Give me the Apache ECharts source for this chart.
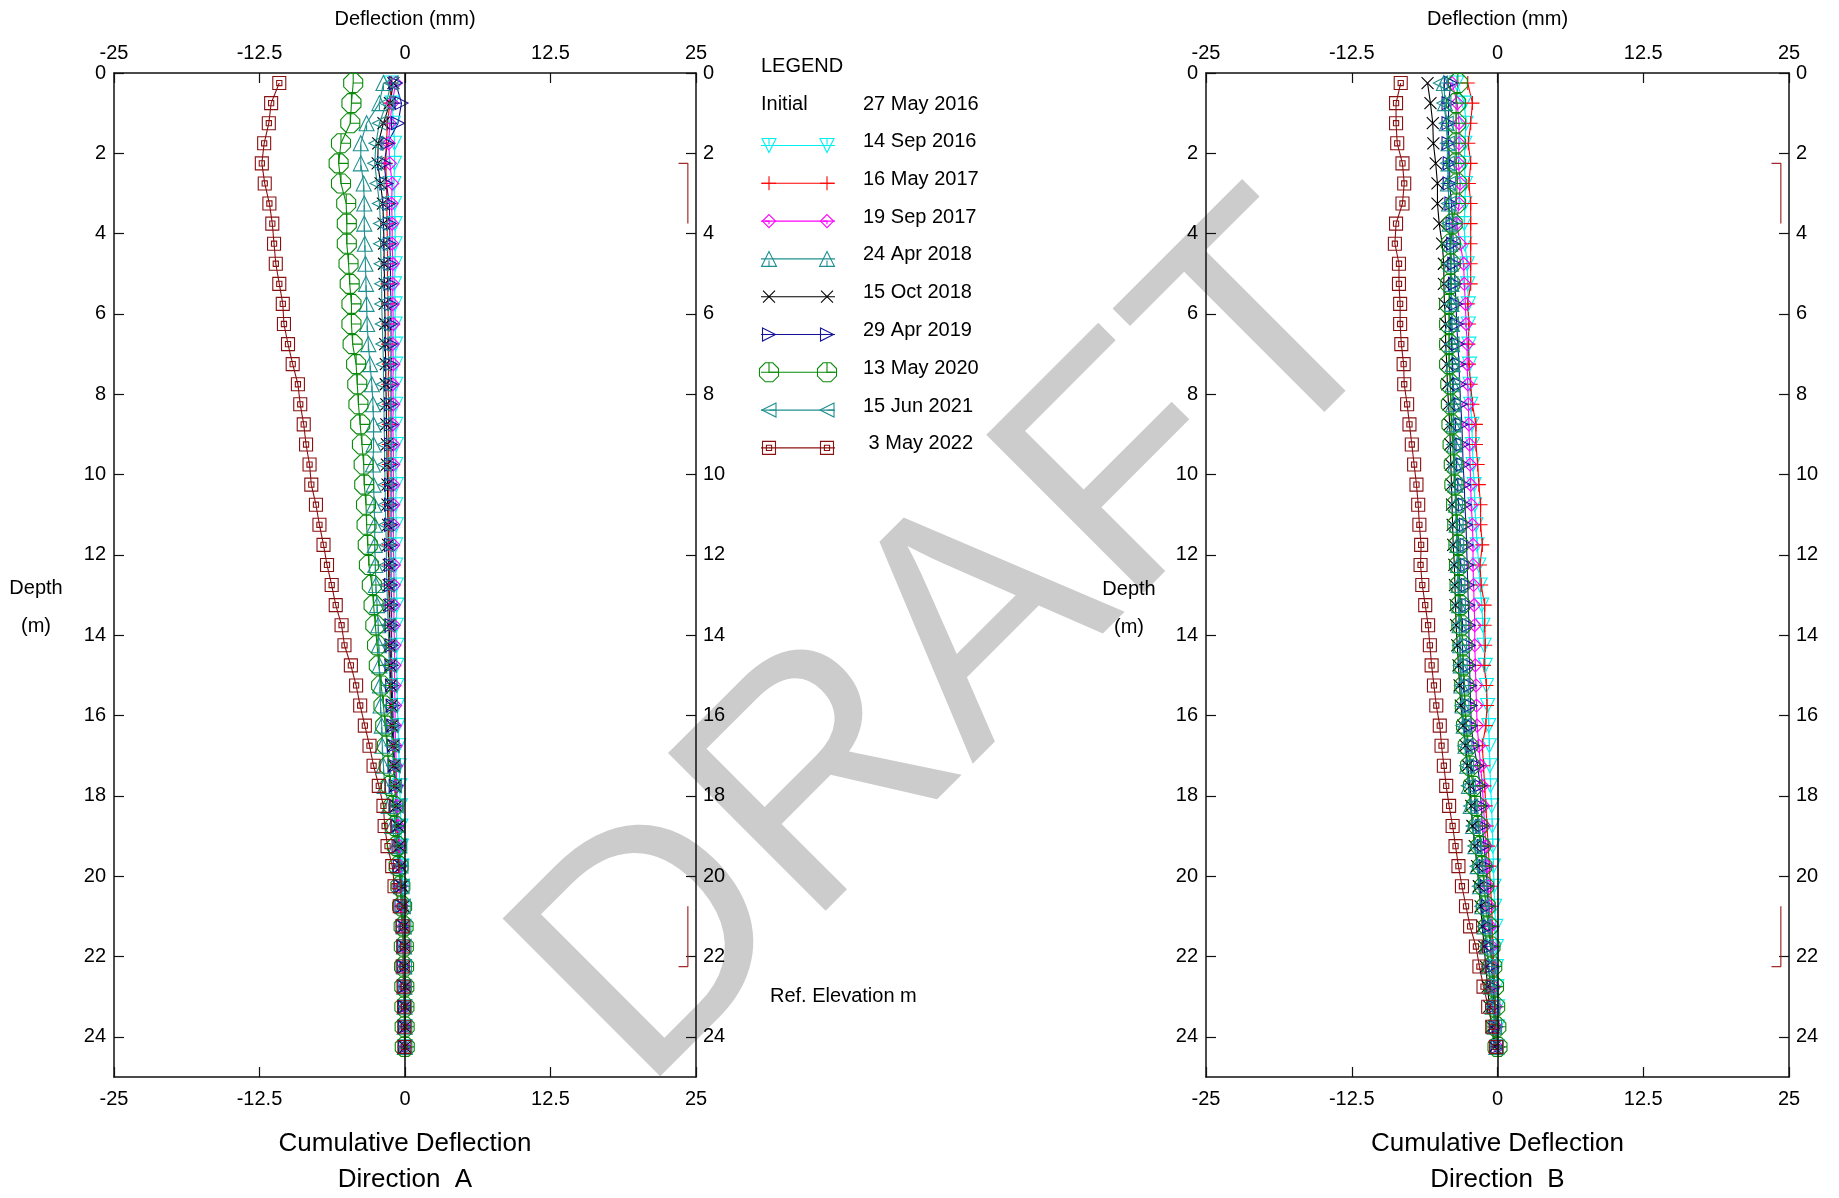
<!DOCTYPE html>
<html><head><meta charset="utf-8">
<script src="https://cdn.jsdelivr.net/npm/echarts@6/dist/echarts.min.js"></script>
<style>html,body{margin:0;padding:0;background:#fff}#c{width:1839px;height:1198px}</style>
</head><body><div id="c"></div>
<script>
// ---------- DATA ----------
const depths = [0.25,0.75,1.25,1.75,2.25,2.75,3.25,3.75,4.25,4.75,5.25,5.75,6.25,6.75,7.25,7.75,8.25,8.75,9.25,9.75,10.25,10.75,11.25,11.75,12.25,12.75,13.25,13.75,14.25,14.75,15.25,15.75,16.25,16.75,17.25,17.75,18.25,18.75,19.25,19.75,20.25,20.75,21.25,21.75,22.25,22.75,23.25,23.75,24.25];
const xTickValues = [-25, -12.5, 0, 12.5, 25];
const initialLabel = 'Initial';
const initialDate = '27 May 2016';
const dateLabels = ['14 Sep 2016','16 May 2017','19 Sep 2017','24 Apr 2018','15 Oct 2018','29 Apr 2019','13 May 2020','15 Jun 2021',' 3 May 2022'];

// Direction A
const a_14Sep2016 = [-1.2,-1.1,-1.0,-0.9,-0.9,-0.95,-0.9,-0.85,-0.85,-0.85,-0.9,-0.85,-0.85,-0.8,-0.8,-0.8,-0.8,-0.8,-0.75,-0.8,-0.75,-0.8,-0.75,-0.8,-0.8,-0.75,-0.7,-0.75,-0.7,-0.7,-0.7,-0.65,-0.6,-0.55,-0.5,-0.45,-0.4,-0.35,-0.3,-0.25,-0.2,-0.15,-0.1,-0.1,-0.05,-0.05,0,0,0];
const a_16May2017 = [-1.2,-1.3,-1.5,-1.6,-1.65,-1.6,-1.55,-1.55,-1.5,-1.5,-1.5,-1.45,-1.45,-1.45,-1.4,-1.45,-1.4,-1.4,-1.4,-1.4,-1.4,-1.4,-1.35,-1.4,-1.35,-1.35,-1.3,-1.3,-1.3,-1.25,-1.2,-1.15,-1.1,-1.0,-0.95,-0.85,-0.8,-0.7,-0.55,-0.45,-0.4,-0.3,-0.2,-0.1,-0.1,-0.05,-0.05,0,0];
const a_19Sep2017 = [-0.8,-1.1,-1.3,-1.4,-1.3,-1.1,-1.15,-1.1,-1.1,-1.05,-1.05,-1.05,-1.0,-1.05,-1.0,-1.05,-1.0,-1.05,-1.0,-1.0,-1.0,-1.0,-1.0,-1.0,-0.95,-0.95,-0.95,-0.95,-0.9,-0.9,-0.9,-0.85,-0.85,-0.8,-0.75,-0.7,-0.65,-0.55,-0.45,-0.4,-0.35,-0.25,-0.15,-0.1,-0.1,-0.05,0,0,0];
const a_24Apr2018 = [-1.85,-2.2,-3.3,-3.8,-3.8,-3.55,-3.5,-3.5,-3.45,-3.4,-3.35,-3.3,-3.25,-3.15,-3.0,-2.85,-2.75,-2.7,-2.7,-2.75,-2.7,-2.65,-2.6,-2.6,-2.55,-2.5,-2.4,-2.3,-2.25,-2.2,-2.15,-2.1,-2.0,-1.95,-1.85,-1.75,-1.4,-1.1,-0.8,-0.55,-0.35,-0.2,-0.1,-0.08,-0.06,-0.05,-0.04,-0.03,-0.02];
const a_15Oct2018 = [-1.0,-1.3,-1.85,-2.3,-2.35,-2.1,-1.9,-1.85,-1.8,-1.8,-1.75,-1.75,-1.7,-1.7,-1.65,-1.65,-1.6,-1.6,-1.55,-1.55,-1.5,-1.5,-1.45,-1.45,-1.4,-1.4,-1.35,-1.35,-1.3,-1.25,-1.2,-1.15,-1.1,-1.0,-0.95,-0.85,-0.75,-0.6,-0.5,-0.35,-0.25,-0.15,-0.1,-0.05,-0.05,0,0,0,0];
const a_29Apr2019 = [-0.8,-0.3,-0.6,-1.5,-1.8,-1.6,-1.35,-1.3,-1.3,-1.25,-1.25,-1.2,-1.2,-1.2,-1.2,-1.2,-1.2,-1.2,-1.2,-1.2,-1.2,-1.2,-1.2,-1.2,-1.2,-1.2,-1.15,-1.15,-1.15,-1.15,-1.1,-1.05,-1.0,-0.95,-0.9,-0.8,-0.75,-0.65,-0.55,-0.45,-0.4,-0.3,-0.2,-0.1,-0.1,-0.05,0,0,0];
const a_13May2020 = [-4.45,-4.6,-4.7,-5.5,-5.7,-5.5,-5.05,-5.0,-5.0,-4.85,-4.75,-4.6,-4.6,-4.5,-4.2,-4.1,-4.0,-3.85,-3.7,-3.55,-3.5,-3.35,-3.3,-3.2,-3.1,-2.85,-2.7,-2.55,-2.4,-2.25,-2.05,-1.85,-1.7,-1.55,-1.4,-1.25,-1.0,-0.85,-0.7,-0.55,-0.4,-0.25,-0.12,-0.1,-0.08,-0.06,-0.05,-0.03,-0.02];
const a_15Jun2021 = [-1.2,-1.6,-2.2,-2.5,-2.6,-2.4,-2.2,-2.1,-2.1,-2.05,-2.0,-2.0,-1.95,-1.9,-1.85,-1.85,-1.8,-1.8,-1.75,-1.75,-1.7,-1.7,-1.65,-1.6,-1.6,-1.55,-1.5,-1.45,-1.4,-1.35,-1.3,-1.25,-1.2,-1.1,-1.0,-0.9,-0.75,-0.6,-0.45,-0.35,-0.25,-0.15,-0.1,-0.08,-0.05,-0.04,-0.03,-0.02,-0.01];
const a_3May2022 = [-10.8,-11.5,-11.7,-12.1,-12.3,-12.05,-11.65,-11.4,-11.25,-11.1,-10.8,-10.5,-10.4,-10.05,-9.65,-9.2,-9.0,-8.7,-8.5,-8.2,-8.05,-7.65,-7.35,-7.0,-6.7,-6.3,-5.95,-5.45,-5.2,-4.65,-4.2,-3.85,-3.45,-3.05,-2.7,-2.25,-1.85,-1.75,-1.5,-1.1,-0.9,-0.45,-0.2,-0.15,-0.2,-0.12,-0.08,-0.06,-0.05];

// Direction B
const b_14Sep2016 = [-3.5,-2.85,-2.7,-2.8,-2.85,-2.75,-2.8,-2.85,-2.8,-2.6,-2.55,-2.5,-2.5,-2.45,-2.4,-2.35,-2.3,-2.2,-2.15,-2.1,-2.0,-1.95,-1.85,-1.75,-1.6,-1.5,-1.35,-1.25,-1.15,-1.05,-0.95,-0.85,-0.75,-0.7,-0.65,-0.6,-0.5,-0.45,-0.4,-0.35,-0.3,-0.25,-0.15,-0.1,-0.1,-0.05,0,0,0];
const b_16May2017 = [-2.55,-2.15,-2.3,-2.5,-2.3,-2.45,-2.3,-2.3,-2.3,-2.3,-2.3,-2.55,-2.45,-2.5,-2.45,-2.3,-2.15,-1.85,-1.85,-1.7,-1.6,-1.45,-1.45,-1.3,-1.5,-1.4,-1.1,-1.1,-1.05,-1.15,-0.95,-0.9,-1.0,-1.3,-1.2,-1.1,-1.0,-0.9,-0.8,-0.7,-0.6,-0.5,-0.45,-0.4,-0.3,-0.25,-0.2,-0.1,0];
const b_19Sep2017 = [-3.9,-3.45,-3.3,-3.3,-3.35,-3.2,-3.3,-3.5,-3.2,-2.9,-2.85,-2.75,-2.7,-2.6,-2.6,-2.55,-2.5,-2.45,-2.4,-2.35,-2.3,-2.25,-2.15,-2.1,-2.1,-2.05,-2.0,-1.95,-1.95,-1.9,-1.85,-1.8,-1.75,-1.6,-1.45,-1.3,-1.2,-1.1,-1.0,-0.9,-0.8,-0.7,-0.6,-0.5,-0.4,-0.3,-0.15,-0.1,0];
const b_24Apr2018 = [-4.6,-4.5,-4.35,-4.2,-4.2,-4.25,-4.15,-4.1,-4.05,-4.0,-3.95,-3.95,-3.9,-3.9,-3.85,-3.85,-3.8,-3.75,-3.7,-3.65,-3.6,-3.55,-3.5,-3.45,-3.4,-3.35,-3.3,-3.25,-3.2,-3.15,-3.1,-3.0,-2.9,-2.75,-2.6,-2.45,-2.3,-2.1,-1.9,-1.7,-1.5,-1.3,-1.1,-0.9,-0.75,-0.55,-0.4,-0.25,-0.1];
const b_15Oct2018 = [-6.0,-5.75,-5.55,-5.5,-5.3,-5.15,-5.15,-5.0,-4.75,-4.6,-4.6,-4.55,-4.45,-4.45,-4.35,-4.3,-4.2,-4.1,-4.05,-4.0,-3.95,-3.9,-3.85,-3.8,-3.7,-3.65,-3.6,-3.55,-3.45,-3.35,-3.25,-3.15,-2.95,-2.75,-2.55,-2.35,-2.25,-2.15,-1.95,-1.75,-1.6,-1.45,-1.3,-1.15,-1.0,-0.85,-0.7,-0.5,-0.25];
const b_29Apr2019 = [-4.0,-4.2,-4.2,-4.2,-4.1,-4.1,-3.95,-3.85,-3.8,-3.7,-3.65,-3.55,-3.5,-3.4,-3.3,-3.25,-3.15,-3.05,-3.0,-2.95,-2.85,-2.8,-2.7,-2.65,-2.6,-2.55,-2.5,-2.45,-2.45,-2.4,-2.35,-2.3,-2.25,-2.05,-1.7,-1.5,-1.4,-1.3,-1.15,-1.0,-0.9,-0.8,-0.7,-0.6,-0.5,-0.4,-0.3,-0.15,0];
const b_13May2020 = [-3.4,-3.55,-3.55,-3.55,-3.55,-3.45,-3.55,-3.85,-4.0,-4.0,-4.05,-4.15,-4.15,-4.15,-4.15,-4.05,-4.0,-3.95,-3.85,-3.75,-3.7,-3.55,-3.45,-3.35,-3.3,-3.25,-3.2,-3.1,-3.0,-2.95,-2.85,-2.8,-2.7,-2.55,-2.35,-2.1,-1.85,-1.65,-1.45,-1.3,-1.15,-1.0,-0.8,-0.6,-0.45,-0.3,-0.2,-0.1,0];
const b_15Jun2021 = [-4.9,-4.6,-4.4,-4.3,-4.3,-4.2,-4.2,-4.15,-4.1,-4.05,-4.0,-4.0,-3.95,-3.9,-3.9,-3.85,-3.8,-3.8,-3.75,-3.7,-3.65,-3.6,-3.55,-3.5,-3.45,-3.4,-3.35,-3.3,-3.25,-3.2,-3.1,-3.05,-2.95,-2.8,-2.65,-2.5,-2.3,-2.1,-1.95,-1.75,-1.55,-1.35,-1.15,-0.95,-0.75,-0.6,-0.4,-0.25,-0.1];
const b_3May2022 = [-8.3,-8.7,-8.7,-8.6,-8.15,-8.0,-8.15,-8.7,-8.8,-8.45,-8.45,-8.35,-8.35,-8.25,-8.05,-8.0,-7.75,-7.55,-7.35,-7.15,-6.95,-6.8,-6.7,-6.55,-6.6,-6.45,-6.2,-5.95,-5.8,-5.65,-5.45,-5.25,-4.95,-4.8,-4.6,-4.4,-4.15,-3.85,-3.6,-3.35,-3.05,-2.7,-2.35,-1.85,-1.55,-1.2,-0.8,-0.45,-0.12];

// reference marks (deflection mm, depth m)
const refMarkTop = [[23.5,2.25],[24.3,2.25],[24.3,3.75]];
const refMarkBottom = [[24.3,20.75],[24.3,22.25],[23.5,22.25]];

// ---------- STYLE ----------
const seriesA = [a_14Sep2016,a_16May2017,a_19Sep2017,a_24Apr2018,a_15Oct2018,a_29Apr2019,a_13May2020,a_15Jun2021,a_3May2022];
const seriesB = [b_14Sep2016,b_16May2017,b_19Sep2017,b_24Apr2018,b_15Oct2018,b_29Apr2019,b_13May2020,b_15Jun2021,b_3May2022];
const colors = ['#00f0f0','#ff0000','#ff00ff','#1f8f8f','#000000','#14149a','#0a8a0a','#1f8f8f','#8b1010'];
const symbolPaths = [
  'M0,0L20,0L10,20ZM10,0L10,9',
  'M0,10L20,10M10,0L10,20',
  'M10,0L20,10L10,20L0,10ZM4,10L10,10L10,15',
  'M10,0L20,20L0,20ZM10,20L10,12',
  'M0,0L20,20M20,0L0,20',
  'M0,0L20,10L0,20ZM0,10L9,10',
  'M6,0L14,0L20,6L20,14L14,20L6,20L0,14L0,6ZM10,0L10,10L20,10',
  'M20,0L0,10L20,20ZM20,10L11,10',
  'M0,0L20,0L20,20L0,20ZM6,6L14,6L14,14L6,14Z'
];
const symbolSizes = [14,14,13,15,12,13,19,14,13];
const FONT = "'Liberation Sans', Arial, Helvetica, sans-serif";

const chart = echarts.init(document.getElementById('c'), null, {renderer:'canvas'});

const gridsPx = [{left:114, top:73, width:582, height:1004},{left:1206, top:73, width:583, height:1004}];

function xAx(g, pos){
  return {type:'value', gridIndex:g, position:pos, min:-25, max:25, interval:12.5,
    axisLine:{show:true, onZero:false, lineStyle:{color:'#111', width:1.5}},
    axisTick:{show:true, inside:true, length:10, lineStyle:{color:'#111', width:1.2}},
    axisLabel:{show:true, fontSize:20, color:'#000', fontFamily:FONT, margin:pos==='top'?10:12, formatter:v=>String(v)},
    splitLine:{show:false}};
}
function yAx(g, pos){
  return {type:'value', gridIndex:g, position:pos, inverse:true, min:0, max:25, interval:2,
    axisLine:{show:true, onZero:false, lineStyle:{color:'#111', width:1.5}},
    axisTick:{show:true, inside:true, length:10, lineStyle:{color:'#111', width:1.2}},
    axisLabel:{show:true, fontSize:20, color:'#000', fontFamily:FONT, margin:pos==='left'?8:7, showMaxLabel:false,
      formatter:v=> (v>24 ? '' : String(v))},
    splitLine:{show:false}};
}

const series = [];
[seriesA, seriesB].forEach((set, g) => {
  set.forEach((vals, k) => {
    const s = {
      type:'line', name:dateLabels[k], xAxisIndex:g*2, yAxisIndex:g*2,
      data: depths.map((d,i)=>[vals[i], d]),
      symbol:'path://'+symbolPaths[k], symbolSize:symbolSizes[k],
      itemStyle:{color:'rgba(0,0,0,0)', borderColor:colors[k], borderWidth:1.1},
      lineStyle:{color:colors[k], width:1.1},
      emphasis:{disabled:true}, silent:true, animation:false
    };
    if (k===0) {
      s.markLine = {silent:true, symbol:'none', animation:false, label:{show:false},
        lineStyle:{color:'#111', width:1.6, type:'solid'}, data:[{xAxis:0}]};
    }
    series.push(s);
  });
  [refMarkTop, refMarkBottom].forEach(m => {
    series.push({type:'line', xAxisIndex:g*2, yAxisIndex:g*2, data:m, symbol:'none',
      lineStyle:{color:'#a52a2a', width:1.2}, silent:true, animation:false});
  });
});

// graphics: titles, legend, watermark
const graphics = [];
function txt(text, x, y, size, align){
  graphics.push({type:'text', x:x, y:y, silent:true, z:10,
    style:{text:text, fill:'#000', fontSize:size, fontFamily:FONT, align:align||'center', verticalAlign:'middle'}});
}
// convert a simple M/L/Z path (0..20 box) into polygon/polyline graphic elements
function symbolGraphics(pathStr, cx, cy, size, color){
  const cmds = pathStr.match(/[MLZ][^MLZ]*/g);
  const subs = []; let cur = null;
  cmds.forEach(c => {
    const t = c[0];
    if (t === 'Z') { if (cur) cur.closed = true; return; }
    const nums = c.slice(1).split(',').map(Number);
    const p = [cx - size/2 + nums[0]*size/20, cy - size/2 + nums[1]*size/20];
    if (t === 'M') { cur = {pts:[p], closed:false}; subs.push(cur); }
    else cur.pts.push(p);
  });
  subs.forEach(sb => {
    graphics.push({type: sb.closed ? 'polygon' : 'polyline', silent:true, z:11,
      shape:{points: sb.pts},
      style:{fill: sb.closed ? 'rgba(0,0,0,0)' : null, stroke:color, lineWidth:1.1}});
  });
}
// watermark (behind)
graphics.push({type:'text', x:960, y:650, rotation:Math.PI/4, silent:true, z:-10,
  style:{text:'DRAFT', fill:'#cccccc', fontSize:324, fontFamily:FONT, align:'center', verticalAlign:'middle'}});

gridsPx.forEach((gp, g) => {
  const cx = gp.left + gp.width/2;
  txt('Deflection (mm)', cx, 19, 20);
  txt('Cumulative Deflection', cx, 1144, 26);
  txt('Direction  ' + (g===0?'A':'B'), cx, 1180, 26);
});
txt('Depth', 36, 588, 20); txt('(m)', 36, 626, 20);
txt('Depth', 1129, 589, 20); txt('(m)', 1129, 627, 20);
txt('Ref. Elevation m', 770, 996, 20, 'left');

// legend
txt('LEGEND', 761, 66, 20, 'left');
txt(initialLabel, 761, 104, 20, 'left');
txt(initialDate, 863, 104, 20, 'left');
dateLabels.forEach((lab, k) => {
  const ty = 141.5 + 37.8*k;
  const ly = ty + 4;
  txt(lab, 863, ty, 20, 'left');
  graphics.push({type:'line', silent:true, z:10, shape:{x1:761, y1:ly, x2:835, y2:ly},
    style:{stroke:colors[k], lineWidth:1.1}});
  [769, 827].forEach(cx => symbolGraphics(symbolPaths[k], cx, ly, symbolSizes[k], colors[k]));
});

chart.setOption({
  animation:false,
  backgroundColor:'#ffffff',
  grid: gridsPx.map(gp => Object.assign({containLabel:false}, gp)),
  xAxis:[xAx(0,'bottom'), xAx(0,'top'), xAx(1,'bottom'), xAx(1,'top')],
  yAxis:[yAx(0,'left'), yAx(0,'right'), yAx(1,'left'), yAx(1,'right')],
  series: series,
  graphic: {elements: graphics}
});
</script></body></html>
